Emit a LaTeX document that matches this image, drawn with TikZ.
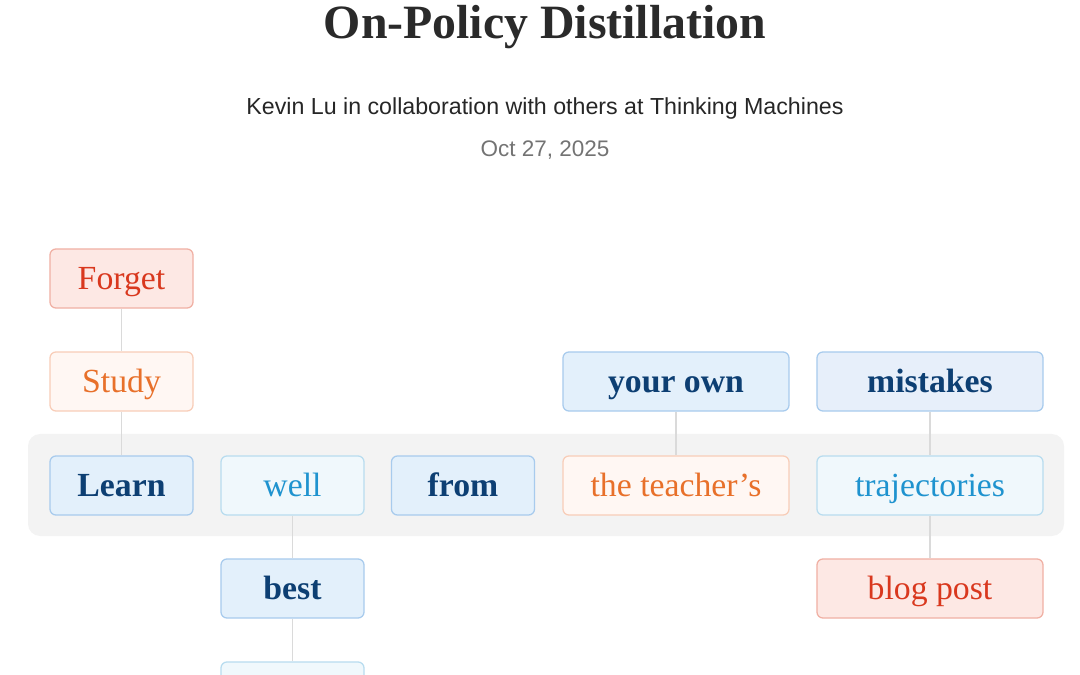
\documentclass[tikz,border=0pt]{standalone}
\usepackage{fontspec}
\setmainfont{Liberation Serif}
\newfontfamily\bylinefont{Liberation Sans}
\usetikzlibrary{positioning}

\definecolor{redfill}{HTML}{FDE8E4}
\definecolor{redline}{HTML}{F0B0A4}
\definecolor{redtext}{HTML}{D9381E}
\definecolor{orafill}{HTML}{FFF7F3}
\definecolor{oraline}{HTML}{F8CDB8}
\definecolor{oratext}{HTML}{E8702A}
\definecolor{navyfill}{HTML}{E3F0FB}
\definecolor{lavfill}{HTML}{E7EFFA}
\definecolor{navyline}{HTML}{A8CBED}
\definecolor{navytext}{HTML}{0D3F73}
\definecolor{skyfill}{HTML}{F0F8FC}
\definecolor{skyline}{HTML}{B8DCEF}
\definecolor{skytext}{HTML}{1F93CF}
\definecolor{bandgray}{HTML}{F3F3F3}
\definecolor{linkgray}{HTML}{DADADA}
\definecolor{headgray}{HTML}{2A2A2A}

\tikzset{
  word/.style={rounded corners=0.15cm, draw, line width=0.9pt,
    minimum width=3.575cm, minimum height=1.475cm, inner sep=0pt,
    text height=20pt, text depth=4.4pt,
    font=\fontsize{24}{24}\selectfont},
  wide/.style={minimum width=5.65cm},
  redword/.style={word, fill=redfill, draw=redline, text=redtext},
  oraword/.style={word, fill=orafill, draw=oraline, text=oratext},
  navyword/.style={word, fill=navyfill, draw=navyline, text=navytext,
    font=\fontsize{24}{24}\selectfont\bfseries},
  skyword/.style={word, fill=skyfill, draw=skyline, text=skytext},
  link/.style={draw=linkgray, line width=0.9pt}
}

\begin{document}
\begin{tikzpicture}[x=0.025cm, y=-0.025cm]
  \useasboundingbox (0,0) rectangle (1080,675);
  \clip (0,0) rectangle (1080,675);

  % heading
  \node[anchor=base, text=headgray] (title) at (545,39) {\fontsize{34}{34}\selectfont\bfseries On-Policy Distillation};
  \node[anchor=base] (byline) at (545,115) {\bylinefont\fontsize{16.5}{16.5}\selectfont\color{black!85}Kevin Lu in collaboration with others at Thinking Machines};
  \node[anchor=base] (date) at (545,157) {\bylinefont\fontsize{16}{16}\selectfont\color{black!55}Oct 27, 2025};

  % the sentence row
  \fill[bandgray, rounded corners=0.3cm] (28,434) rectangle (1064,536);

  \node[redword]        (forget)   at (121.5,278.5) {Forget};
  \node[oraword]        (study)    at (121.5,381.5) {Study};
  \node[navyword]       (learn)    at (121.5,485.5) {Learn};

  \node[skyword]        (well)     at (292.5,485.5) {well};
  \node[navyword]       (best)     at (292.5,588.5) {best};
  \node[skyword]        (next)     at (292.5,691.5) {};

  \node[navyword]       (from)     at (463,485.5)   {from};

  \node[navyword,wide]  (yourown)  at (676,381.5)   {your own};
  \node[oraword,wide]   (teachers) at (676,485.5)   {the teacher’s};

  \node[navyword,wide,fill=lavfill] (mistakes) at (930,381.5) {mistakes};
  \node[skyword,wide]   (traj)     at (930,485.5)   {trajectories};
  \node[redword,wide]   (blog)     at (930,588.5)   {blog post};

  \path[link] (forget)   -- (study);
  \path[link] (study)    -- (learn);
  \path[link] (well)     -- (best);
  \path[link] (best)     -- (next);
  \path[link] (yourown)  -- (teachers);
  \path[link] (mistakes) -- (traj);
  \path[link] (traj)     -- (blog);

\end{tikzpicture}
\end{document}
